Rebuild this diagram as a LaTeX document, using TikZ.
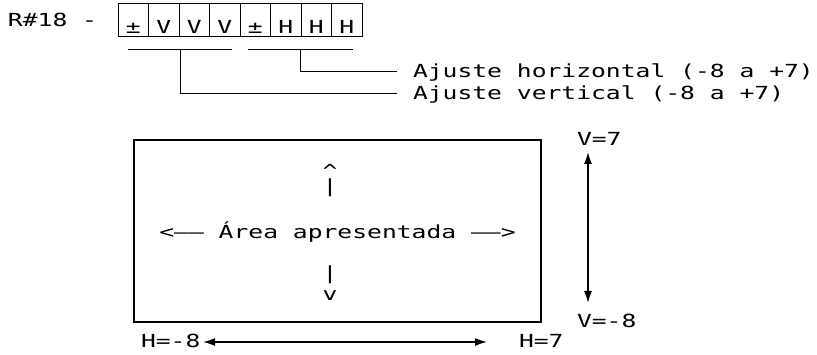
\documentclass[tikz,border=0pt]{standalone}
\usepackage{fontspec}
\usepackage{graphicx}
\usetikzlibrary{arrows.meta}
\newfontfamily\monofnt{DejaVu Sans Mono}[FakeStretch=1.37]
\newcommand\twodash{——}
\begin{document}
\begin{tikzpicture}[x=1pt,y=-1pt,
  every node/.style={font=\monofnt\fontsize{18}{21.6}\selectfont, inner sep=0pt, outer sep=0pt},
  cell/.style={draw, line width=1pt, minimum width=30.5pt, minimum height=33pt},
  lbl/.style={anchor=base},
  ln/.style={line width=1pt},
  dbl/.style={line width=1.6pt, {Latex[length=12pt,width=8pt]}-{Latex[length=12pt,width=8pt]}}
]
\useasboundingbox (0,0) rectangle (817,355);
% register
\node[anchor=base west] (reg) at (8,27) {R\#18 -};
\foreach \i/\t in {1/{±},2/V,3/V,4/V,5/{±},6/H,7/H,8/H} {
  \node[cell] (c\i) at ({118+30.5*(\i-0.5)},20.5) {};
  \node[lbl] (t\i) at ([yshift=3pt]c\i.south) {\t};
}
% brackets
\coordinate (vl) at (128,50);
\coordinate (vr) at (232,50);
\coordinate (vm) at (180,50);
\coordinate (hl) at (248,50);
\coordinate (hr) at (353,50);
\coordinate (hm) at (300,50);
\draw[ln] (vl) -- (vr);
\draw[ln] (hl) -- (hr);
\node[anchor=base west] (th) at (413,78) {Ajuste horizontal (-8 a +7)};
\node[anchor=base west] (tv) at (413,100) {Ajuste vertical (-8 a +7)};
\draw[ln] (hm) |- ([xshift=-16pt,yshift=6pt]th.base west);
\draw[ln] (vm) |- ([xshift=-16pt,yshift=6pt]tv.base west);
% area box
\node[draw, line width=1.2pt, minimum width=407pt, minimum height=182pt] (area) at (337.5,231) {};
\node[anchor=base] (atext) at (337.5,239) {<\twodash{} Área apresentada \twodash>};
\node[anchor=base] (up1) at (330,178) {\textasciicircum};
\node[anchor=base] (up2) at (330,192.5) {|};
\node[anchor=base] (dn1) at (330,280) {|};
\node[anchor=base] (dn2) at (330,301) {v};
% limits
\node[anchor=base west] (v7) at (577,146) {V=7};
\node[anchor=base west] (vm8) at (577,328) {V=-8};
\node[anchor=base west] (hm8) at (141,348) {H=-8};
\node[anchor=base west] (h7) at (519,348) {H=7};
\draw[dbl] ([xshift=11pt,yshift=-6pt]v7.base west) -- ([xshift=11pt,yshift=25pt]vm8.base west);
\draw[dbl] ([xshift=62pt,yshift=6pt]hm8.base west) -- ([xshift=-32pt,yshift=6pt]h7.base west);
\end{tikzpicture}
\end{document}
